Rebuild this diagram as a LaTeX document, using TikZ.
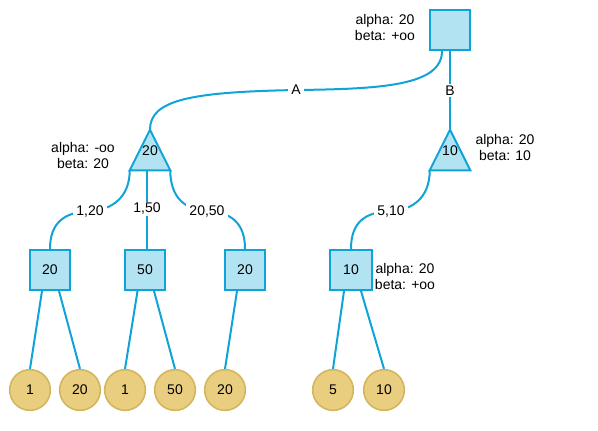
\documentclass[tikz,border=0pt]{standalone}
\usepackage{fontspec}
\setmainfont{Liberation Sans}
\definecolor{bfill}{HTML}{B1E3F2}
\definecolor{bline}{HTML}{10A3DA}
\definecolor{lfill}{HTML}{E9CE80}
\definecolor{lline}{HTML}{D5B660}
\begin{document}
\begin{tikzpicture}[x=0.75pt,y=-0.75pt,
  font=\fontsize{10.5}{12}\selectfont,
  box/.style={draw=bline, fill=bfill, line width=1.5pt, minimum width=30pt, minimum height=30pt, inner sep=0pt},
  leaf/.style={circle, draw=lline, fill=lfill, line width=1.2pt, minimum size=30.5pt, inner sep=0pt},
  tri/.style={minimum width=30pt, minimum height=30pt, inner sep=0pt},
  trishape/.style={draw=bline, fill=bfill, line width=1.5pt, line join=miter},
  edge/.style={draw=bline, line width=1.5pt},
  lbl/.style={fill=white, inner xsep=2.5pt, inner ysep=1pt},
  note/.style={align=center, inner sep=0pt}]
\useasboundingbox (0,0) rectangle (598,430);

% max nodes
\node[box] (root) at (450,30) {};
\node[tri] (t1) at (150,150) {};
\node[tri] (t2) at (450,150) {};
\draw[trishape] (t1.north) -- (t1.south west) -- (t1.south east) -- cycle;
\draw[trishape] (t2.north) -- (t2.south west) -- (t2.south east) -- cycle;
\node[inner sep=0pt] (t1v) at (150,151) {20};
\node[inner sep=0pt] (t2v) at (450,151) {10};

\node[box] (s1) at (50,270) {20};
\node[box] (s2) at (145,270) {50};
\node[box] (s3) at (245,270) {20};
\node[box, minimum width=31.5pt] (s4) at (351,270) {10};

\node[leaf] (l1) at (30,390) {1};
\node[leaf] (l2) at (80,390) {20};
\node[leaf] (l3) at (125,390) {1};
\node[leaf] (l4) at (175,390) {50};
\node[leaf] (l5) at (225,390) {20};
\node[leaf] (l6) at (333,390) {5};
\node[leaf] (l7) at (384,390) {10};

% notes
\node[note] (n0) at (385,27) {alpha: 20\\beta: +oo};
\node[note] (n1) at (83,155) {alpha: -oo\\beta: 20};
\node[note] (n2) at (505,147) {alpha: 20\\beta: 10};
\node[note] (n3) at (405,276) {alpha: 20\\beta: +oo};

% edges top
\draw[edge] ([xshift=-6pt]root.south) .. controls +(0,35) and (380,89) .. (296,90) node[lbl]{A}
  .. controls (190,92) and (150,100) .. (t1.north);
\draw[edge] (root.south) -- node[lbl]{B} (t2.north);

% edges middle
\draw[edge] (t1.south west) .. controls +(0,27) and (112,210) .. (90,211) node[lbl]{1,20}
  .. controls (65,212) and (50,222) .. (s1.north);
\draw[edge] ([xshift=-2.25pt]t1.south) -- node[lbl, pos=0.49]{1,50} ([xshift=1.5pt]s2.north);
\draw[edge] (t1.south east) .. controls +(0,27) and (185,210) .. (207,211) node[lbl]{20,50}
  .. controls (230,212) and (245,222) .. (s3.north);
\draw[edge] (t2.south west) .. controls +(0,27) and (413,210) .. (391,211) node[lbl]{5,10}
  .. controls (365,212) and (351,222) .. (s4.north);

% edges to leaves
\draw[edge] ([xshift=-6pt]s1.south) -- (l1.north);
\draw[edge] ([xshift=6.75pt]s1.south) -- (l2.north);
\draw[edge] ([xshift=-5.6pt]s2.south) -- (l3.north);
\draw[edge] ([xshift=6.75pt]s2.south) -- (l4.north);
\draw[edge] ([xshift=-6pt]s3.south) -- (l5.north);
\draw[edge] ([xshift=-5.25pt]s4.south) -- (l6.north);
\draw[edge] ([xshift=7.5pt]s4.south) -- (l7.north);
\end{tikzpicture}
\end{document}
